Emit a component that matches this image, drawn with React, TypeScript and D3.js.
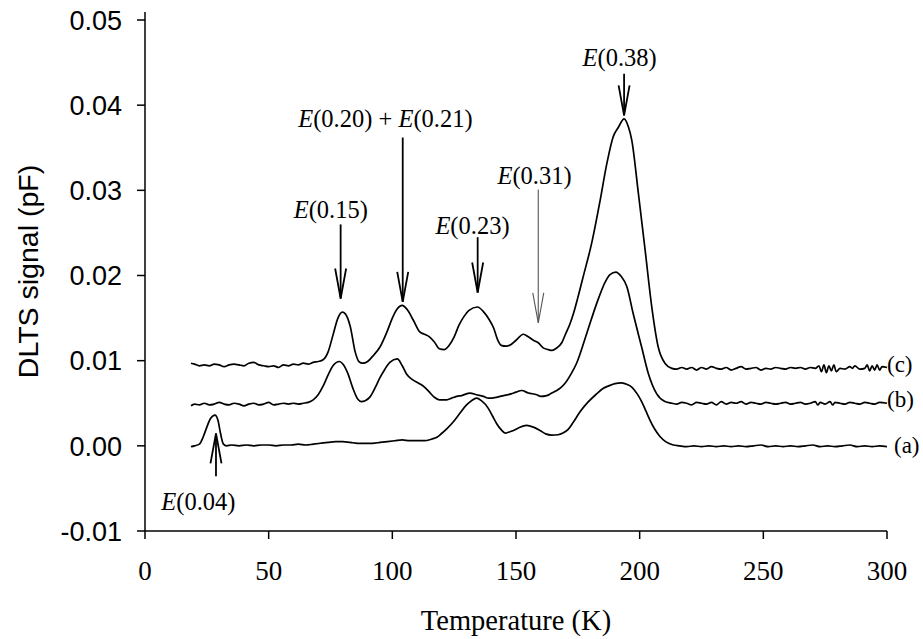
import React from "react";
import * as d3 from "d3";

// DLTS spectra: [temperature (K), signal (pF)]
const seriesC: [number, number][] = [
  [18.6, 0.0097], [20, 0.0096], [22, 0.0094], [24, 0.0095], [26, 0.0094], [28, 0.0096],
  [30, 0.0095], [32, 0.0093], [34, 0.0095], [36, 0.0096], [38, 0.0095], [40, 0.0094],
  [42, 0.0097], [44, 0.0098], [46, 0.0095], [48, 0.0094], [50, 0.0093], [52, 0.0094],
  [54, 0.0092], [56, 0.0095], [58, 0.0094], [60, 0.0096], [62, 0.0095], [64, 0.0097],
  [66, 0.0096], [68, 0.0098], [70, 0.0099], [72, 0.0101], [74, 0.011], [76, 0.013],
  [78, 0.015], [79.8, 0.0157], [81, 0.0155], [83, 0.014], [85, 0.011], [86.5, 0.0099],
  [88, 0.0097], [90, 0.0099], [92, 0.0105], [95, 0.0116], [98, 0.0135], [100, 0.015],
  [102, 0.0161], [104, 0.0165], [106, 0.016], [108.5, 0.01475], [111, 0.0134], [113, 0.0131],
  [115, 0.0128], [117, 0.0122], [119, 0.0114], [121, 0.0113], [123, 0.0118], [125, 0.0128],
  [127, 0.0142], [129, 0.0152], [131, 0.0159], [134.4, 0.0163], [137, 0.0157], [139, 0.0149],
  [141, 0.0138], [142.5, 0.0125], [144, 0.0118], [146, 0.0117], [148, 0.0119], [150, 0.0124],
  [153, 0.0131], [155, 0.0128], [157, 0.0124], [159, 0.0121], [161, 0.0115], [163, 0.0113],
  [164.5, 0.0112], [166, 0.0114], [168.5, 0.0121], [170, 0.0131], [171.8, 0.0143], [173.2, 0.0155],
  [175, 0.0174], [177.2, 0.0199], [180.6, 0.0238], [184, 0.0288], [186.7, 0.0331], [189.3, 0.0363],
  [191.4, 0.0374], [193.7, 0.0384], [195.5, 0.0374], [196.8, 0.0359], [199.5, 0.0296], [202.2, 0.023],
  [204.9, 0.0163], [207.5, 0.0116], [210.2, 0.0097], [213, 0.0091], [215, 0.009], [217, 0.0092],
  [219, 0.009], [221, 0.0092], [223, 0.0089], [225, 0.0092], [227, 0.009], [229, 0.0093],
  [231, 0.0091], [233, 0.009], [235, 0.0092], [237, 0.0089], [239, 0.0091], [241, 0.0093],
  [243, 0.009], [245, 0.0091], [247, 0.0092], [249, 0.0089], [251, 0.0091], [253, 0.009],
  [255, 0.0092], [257, 0.0091], [259, 0.009], [261, 0.0092], [263, 0.0091], [265, 0.0092],
  [267, 0.009], [269, 0.0092], [271, 0.0091], [272.5, 0.0094], [273.5, 0.0087], [274.5, 0.0095],
  [275.5, 0.0086], [276.5, 0.0094], [277.5, 0.0088], [278.5, 0.0095], [279.5, 0.0087], [281, 0.0091],
  [283, 0.009], [285, 0.0093], [286, 0.0091], [287, 0.0094], [289, 0.009], [291, 0.0091],
  [292, 0.0095], [293, 0.0088], [294, 0.0094], [295, 0.0089], [296, 0.0095], [297, 0.0089],
  [298, 0.0093], [300, 0.0092],
];

const seriesB: [number, number][] = [
  [18.6, 0.0047], [20, 0.0049], [22, 0.0048], [24, 0.005], [26, 0.0048], [28, 0.0049],
  [30, 0.0051], [32, 0.0049], [34, 0.0048], [36, 0.005], [38, 0.0049], [40, 0.0047],
  [42, 0.0049], [44, 0.005], [46, 0.0048], [48, 0.0049], [50, 0.0051], [52, 0.0048],
  [54, 0.0049], [56, 0.005], [58, 0.0049], [60, 0.005], [62, 0.0049], [64, 0.005],
  [66, 0.0051], [68, 0.0054], [70, 0.006], [72, 0.007], [74, 0.0083], [76, 0.0094],
  [78.6, 0.0099], [80, 0.0096], [82, 0.0085], [84, 0.0068], [86, 0.0055], [87.5, 0.0052],
  [89, 0.0053], [91, 0.00575], [93, 0.0068], [95, 0.008], [97, 0.009], [99, 0.0098],
  [102, 0.0102], [104, 0.0094], [105.8, 0.0084], [108, 0.0078], [111, 0.0073], [113, 0.0069],
  [115, 0.0063], [117, 0.0057], [119, 0.0054], [122, 0.0054], [124, 0.0056], [126, 0.0058],
  [128, 0.0059], [131.4, 0.0062], [134, 0.006], [136.8, 0.0058], [139, 0.0056], [142, 0.0057],
  [145, 0.0059], [148, 0.0061], [150, 0.0063], [152.3, 0.0065], [155, 0.0062], [158.4, 0.006],
  [160, 0.0058], [162.4, 0.0059], [164.5, 0.0062], [166.5, 0.0065], [168, 0.0068], [170, 0.0074],
  [172, 0.0083], [174.5, 0.0097], [178.6, 0.0132], [182.6, 0.0167], [186, 0.0192], [188, 0.0201],
  [190.4, 0.0204], [192.5, 0.0199], [194.8, 0.0187], [197.4, 0.0155], [200.8, 0.0116], [203.5, 0.0085],
  [206.9, 0.0061], [210.2, 0.0052], [213, 0.005], [215, 0.0049], [217, 0.0051], [219, 0.005],
  [221, 0.0048], [223, 0.0051], [225, 0.005], [227, 0.0049], [229, 0.0051], [231, 0.0048],
  [233, 0.0052], [235, 0.0049], [237, 0.0051], [239, 0.005], [241, 0.0052], [243, 0.0049],
  [245, 0.0051], [247, 0.005], [249, 0.0049], [251, 0.0051], [253, 0.005], [255, 0.0049],
  [257, 0.005], [259, 0.0051], [261, 0.0049], [263, 0.005], [265, 0.0051], [267, 0.0049],
  [269, 0.005], [271, 0.0052], [272, 0.0048], [273, 0.0051], [275, 0.0049], [277, 0.0052],
  [278, 0.0048], [279, 0.0051], [281, 0.005], [283, 0.0049], [285, 0.0051], [287, 0.005],
  [289, 0.0049], [291, 0.0051], [293, 0.005], [295, 0.0049], [297, 0.0051], [300, 0.005],
];

const seriesA: [number, number][] = [
  [18.6, -0.0001], [20, 0.0], [22, 0.0002], [23.6, 0.0011], [25, 0.0022], [26.5, 0.0032],
  [28.3, 0.0036], [29.5, 0.003], [30.5, 0.0015], [31.7, 0.0002], [33, 0.0], [35, 0.0001],
  [38, 0.0], [41, 0.0001], [44, 0.0], [47, 0.0001], [50, 0.0001], [53, 0.0],
  [56, 0.0001], [59, 0.0001], [62, 0.0002], [65, 0.0001], [68, 0.0002], [71, 0.0003],
  [74, 0.0004], [77, 0.0005], [80, 0.0005], [83, 0.0004], [86, 0.0003], [89, 0.0003],
  [92, 0.0003], [95, 0.0004], [98, 0.0005], [101, 0.0006], [104, 0.0007], [107, 0.0006],
  [110, 0.0006], [113, 0.0006], [116, 0.0008], [118, 0.001], [119.9, 0.00145], [122, 0.002],
  [124.6, 0.0028], [127, 0.0037], [130, 0.0048], [132, 0.0053], [134.1, 0.0056], [136, 0.0053],
  [138.8, 0.0044], [140.5, 0.0035], [142.2, 0.0026], [144, 0.0019], [145.6, 0.0015], [147, 0.0016],
  [149, 0.0018], [151, 0.0021], [154.3, 0.0024], [157, 0.0022], [159.7, 0.0018], [162, 0.0014],
  [164.4, 0.00126], [167, 0.0013], [169, 0.0015], [171, 0.0019], [173, 0.0027], [175.9, 0.004],
  [179, 0.0051], [182.6, 0.0061], [185, 0.0067], [188, 0.0071], [190, 0.0073], [192.7, 0.0074],
  [195, 0.0072], [196.8, 0.0069], [199, 0.0061], [200.8, 0.0052], [202.5, 0.0041], [204.2, 0.003],
  [206, 0.002], [208.2, 0.0011], [210.5, 0.0005], [213.6, 0.0001], [216, 0.0], [219, -0.0001],
  [222, 0.0], [225, -0.0001], [228, 0.0], [231, -0.0001], [234, 0.0], [237, -0.0001],
  [240, 0.0], [243, -0.0001], [246, 0.0], [249, 0.0001], [252, -0.0001], [255, 0.0],
  [258, -0.0001], [261, 0.0], [264, -0.0001], [267, 0.0], [270, 0.0001], [273, -0.0001],
  [276, 0.0], [279, -0.0001], [282, 0.0], [285, 0.0001], [288, -0.0001], [291, 0.0],
  [294, -0.0001], [297, 0.0], [300, -0.0001],
];

const seriesNames = ["(a)", "(b)", "(c)"];
const xTicks = [0, 50, 100, 150, 200, 250, 300];
const yTicks = [-0.01, 0, 0.01, 0.02, 0.03, 0.04, 0.05];

// Trap labels: arrow at temperature t from tail to tip (signal values); label text centred at labelT
type Note = { parts: [string, string][]; t: number; tail: number; tip: number; labelT: number; labelV: number; thin?: boolean };
const notes: Note[] = [
  { parts: [["E", "i"], ["(0.15)", "n"]], t: 79.1, tail: 0.026, tip: 0.0173, labelT: 75.1, labelV: 0.0267 },
  { parts: [["E", "i"], ["(0.20) + ", "n"], ["E", "i"], ["(0.21)", "n"]], t: 104.2, tail: 0.0362, tip: 0.0169, labelT: 97.2, labelV: 0.0374 },
  { parts: [["E", "i"], ["(0.23)", "n"]], t: 134.5, tail: 0.0245, tip: 0.018, labelT: 132.4, labelV: 0.0249 },
  { parts: [["E", "i"], ["(0.31)", "n"]], t: 159.0, tail: 0.0301, tip: 0.01444, labelT: 157.5, labelV: 0.0307, thin: true },
  { parts: [["E", "i"], ["(0.38)", "n"]], t: 193.7, tail: 0.0437, tip: 0.0388, labelT: 191.9, labelV: 0.0446 },
  { parts: [["E", "i"], ["(0.04)", "n"]], t: 28.7, tail: -0.00356, tip: 0.00146, labelT: 21.6, labelV: -0.00755 },
];

const W = 923;
const H = 639;
const x = d3.scaleLinear().domain([0, 300]).range([145, 887]);
const y = d3.scaleLinear().domain([-0.01, 0.05]).range([531, 20]);

const line = d3
  .line<[number, number]>()
  .x((d) => x(d[0]))
  .y((d) => y(d[1]))
  .curve(d3.curveMonotoneX);

const serif = "'Liberation Serif', 'Times New Roman', serif";
const sans = "'Liberation Sans', Arial, sans-serif";

function Arrow({ n }: { n: Note }) {
  const ax = x(n.t);
  const y1 = y(n.tail);
  const y2 = y(n.tip);
  const dir = y2 > y1 ? 1 : -1;
  const headLen = 30;
  const half = 5.5;
  const color = n.thin ? "#555" : "#000";
  const sw = n.thin ? 1.1 : 1.8;
  return (
    <g stroke={color} strokeWidth={sw} fill="none">
      <line x1={ax} y1={y1} x2={ax} y2={y2} />
      <polyline points={`${ax - half},${y2 - dir * headLen} ${ax},${y2} ${ax + half},${y2 - dir * headLen}`} />
    </g>
  );
}

export default function App() {
  const series = [seriesA, seriesB, seriesC];
  const nameY = [453, 406.5, 372];
  const nameX = [894, 887, 887];
  return (
    <svg width={W} height={H} style={{ position: "absolute", left: 0, top: 0, background: "#fff" }}>
      <rect width={W} height={H} fill="#fff" />
      {/* axes */}
      <g stroke="#000" strokeWidth={1.5}>
        <line x1={145} y1={12} x2={145} y2={531} />
        <line x1={145} y1={531} x2={887} y2={531} />
        {yTicks.map((t) => (
          <line key={"yt" + t} x1={137} x2={145} y1={y(t)} y2={y(t)} />
        ))}
        {xTicks.map((t) => (
          <line key={"xt" + t} x1={x(t)} x2={x(t)} y1={531} y2={539} />
        ))}
      </g>
      <g fontFamily={sans} fontSize={27} fill="#000" textAnchor="end">
        {yTicks.map((t) => (
          <text key={"yl" + t} x={122} y={y(t)} dy="0.36em">
            {t.toFixed(2)}
          </text>
        ))}
      </g>
      <g fontFamily={serif} fontSize={27} fill="#000" textAnchor="middle">
        {xTicks.map((t) => (
          <text key={"xl" + t} x={x(t)} y={579.5}>
            {t}
          </text>
        ))}
      </g>
      <text x={516} y={630} fontFamily={serif} fontSize={28.5} textAnchor="middle">
        Temperature (K)
      </text>
      <text
        transform="translate(38,271.5) rotate(-90)"
        fontFamily={sans}
        fontSize={28.5}
        textAnchor="middle"
      >
        DLTS signal (pF)
      </text>
      {/* spectra */}
      <g fill="none" stroke="#000" strokeWidth={1.7} strokeLinejoin="round">
        {series.map((s, i) => (
          <path key={"s" + i} d={line(s) || ""} />
        ))}
      </g>
      <g fontFamily={serif} fontSize={23} fill="#000">
        {seriesNames.map((nm, i) => (
          <text key={nm} x={nameX[i]} y={nameY[i]}>
            {nm}
          </text>
        ))}
      </g>
      {/* trap annotations */}
      {notes.map((n, i) => (
        <g key={"n" + i}>
          <Arrow n={n} />
          <text x={x(n.labelT)} y={y(n.labelV)} fontFamily={serif} fontSize={24.5} textAnchor="middle" fill="#000">
            {n.parts.map(([s, st], j) => (
              <tspan key={j} fontStyle={st === "i" ? "italic" : "normal"}>
                {s}
              </tspan>
            ))}
          </text>
        </g>
      ))}
    </svg>
  );
}
